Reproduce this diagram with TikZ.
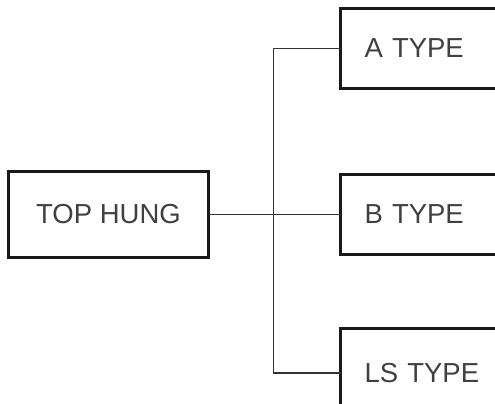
\documentclass[tikz,border=0pt]{standalone}
\usepackage{fontspec}
\setmainfont{Liberation Sans}
\usetikzlibrary{positioning, calc}

\begin{document}
\begin{tikzpicture}[
    x=1pt, y=-1pt,
    font=\fontsize{27.5}{32}\selectfont,
    typebox/.style={draw=black!90, line width=3pt, rectangle, text=black!75, inner sep=0pt, outer sep=0pt},
    rootbox/.style={typebox, minimum width=200pt, minimum height=86pt},
    leafbox/.style={typebox, minimum width=176pt, text width=128pt, align=left, inner xsep=24pt},
    conn/.style={draw=black!80, line width=1.4pt}
]
\useasboundingbox (0,0) rectangle (495,404);
\clip (0,0) rectangle (495,404);

\node[rootbox] (top) at (108.5,214.5) {TOP HUNG};
\node[leafbox, minimum height=80pt, anchor=north west] (atype) at (340.5,8.5) {A TYPE};
\node[leafbox, minimum height=80pt, anchor=north west] (btype) at (340.5,174.5) {B TYPE};
\node[leafbox, minimum height=89pt, anchor=north west] (lstype) at (340.5,328.5) {LS TYPE};

\coordinate (fork) at (273.5,214.5);
\draw[conn] (top.east) -- (top.east -| btype.west);
\draw[conn] (atype.west) -| (fork);
\draw[conn] (lstype.west) -| (fork);

\end{tikzpicture}
\end{document}
